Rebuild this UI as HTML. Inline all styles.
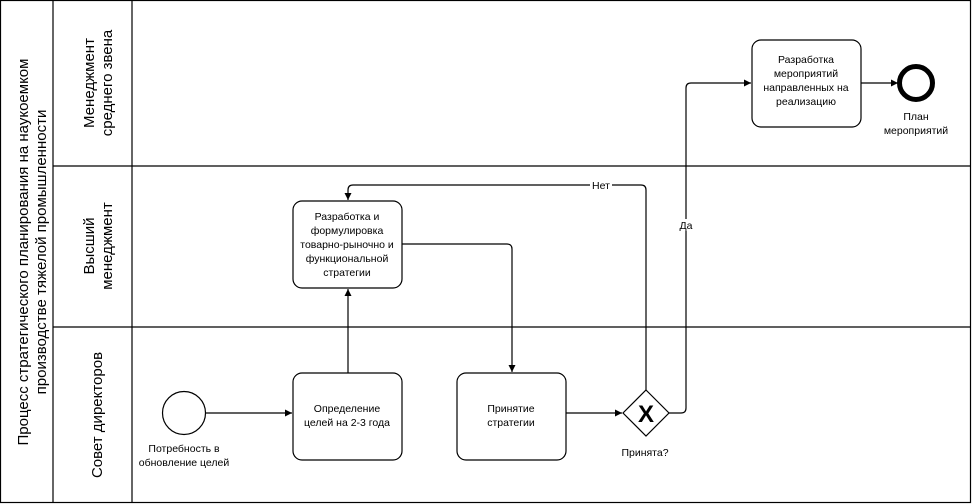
<!DOCTYPE html>
<html><head><meta charset="utf-8"><style>
html,body{margin:0;padding:0;background:#fff}
svg{display:block}
text{font-family:"Liberation Sans","DejaVu Sans",sans-serif;fill:#000}
.t{font-size:10.5px;text-anchor:middle}
.l{font-size:15px;text-anchor:middle}
</style></head><body>
<svg width="972" height="504" viewBox="0 0 972 504" xmlns="http://www.w3.org/2000/svg">
<defs><marker id="a" markerWidth="8" markerHeight="8" refX="7" refY="4" orient="auto" markerUnits="userSpaceOnUse"><path d="M0,0.5 L7,4 L0,7.5 Z" fill="#000"/></marker></defs>
<g fill="none" stroke="#000" stroke-width="1.2">
<rect x="0.5" y="0.5" width="970" height="502"/>
<line x1="53" y1="0" x2="53" y2="503"/>
<line x1="132" y1="0" x2="132" y2="503"/>
<line x1="53" y1="166" x2="971" y2="166"/>
<line x1="53" y1="327" x2="971" y2="327"/>
<circle cx="184" cy="413" r="21.5"/>
<rect x="293" y="373" width="109" height="87" rx="9"/>
<rect x="293" y="201" width="109" height="87" rx="9"/>
<rect x="457" y="373" width="109" height="87" rx="9"/>
<rect x="752" y="40" width="109" height="87" rx="9"/>
<path d="M646,390 L669,413 L646,436 L623,413 Z"/>
<circle cx="916" cy="83" r="16.5" stroke-width="5"/>
<line x1="206" y1="413" x2="292" y2="413" marker-end="url(#a)"/>
<line x1="348" y1="373" x2="348" y2="289" marker-end="url(#a)"/>
<path d="M402,244 H507 Q512,244 512,249 V372" marker-end="url(#a)"/>
<line x1="566" y1="413" x2="622" y2="413" marker-end="url(#a)"/>
<path d="M646,390 V190 Q646,185 641,185 H353 Q348,185 348,190 V200" marker-end="url(#a)"/>
<path d="M669,413 H681 Q686,413 686,408 V88 Q686,83 691,83 H751" marker-end="url(#a)"/>
<line x1="861" y1="83" x2="898" y2="83" marker-end="url(#a)"/>
</g>
<rect x="590" y="179" width="22" height="12" fill="#fff"/>
<text class="t" x="601" y="189">Нет</text>
<rect x="677" y="219" width="18" height="12" fill="#fff"/>
<text class="t" x="686" y="229">Да</text>
<text x="646" y="422" font-size="24" font-weight="bold" text-anchor="middle" style="font-family:'Liberation Sans',sans-serif">X</text>
<text class="t" x="347" y="412">Определение</text>
<text class="t" x="347" y="426">целей на 2-3 года</text>
<text class="t" x="511" y="412">Принятие</text>
<text class="t" x="511" y="426">стратегии</text>
<text class="t" x="347" y="220">Разработка и</text>
<text class="t" x="347" y="234">формулировка</text>
<text class="t" x="347" y="248">товарно-рыночно и</text>
<text class="t" x="347" y="262">функциональной</text>
<text class="t" x="347" y="276">стратегии</text>
<text class="t" x="806" y="63">Разработка</text>
<text class="t" x="806" y="77">мероприятий</text>
<text class="t" x="806" y="91">направленных на</text>
<text class="t" x="806" y="105">реализацию</text>
<text class="t" x="916" y="120">План</text>
<text class="t" x="916" y="134">мероприятий</text>
<text class="t" x="184" y="452">Потребность в</text>
<text class="t" x="184" y="466">обновление целей</text>
<text class="t" x="645" y="456">Принята?</text>
<g transform="translate(31,252) rotate(-90)">
<text class="l" x="0" y="-3">Процесс стратегического планирования на наукоемком</text>
<text class="l" x="0" y="15">производстве тяжелой промышленности</text>
</g>
<g transform="translate(97,83) rotate(-90)">
<text class="l" x="0" y="-3">Менеджмент</text>
<text class="l" x="0" y="15">среднего звена</text>
</g>
<g transform="translate(97,246) rotate(-90)">
<text class="l" x="0" y="-3">Высший</text>
<text class="l" x="0" y="15">менеджмент</text>
</g>
<g transform="translate(97,415) rotate(-90)">
<text class="l" x="0" y="5">Совет директоров</text>
</g>
</svg>
</body></html>
